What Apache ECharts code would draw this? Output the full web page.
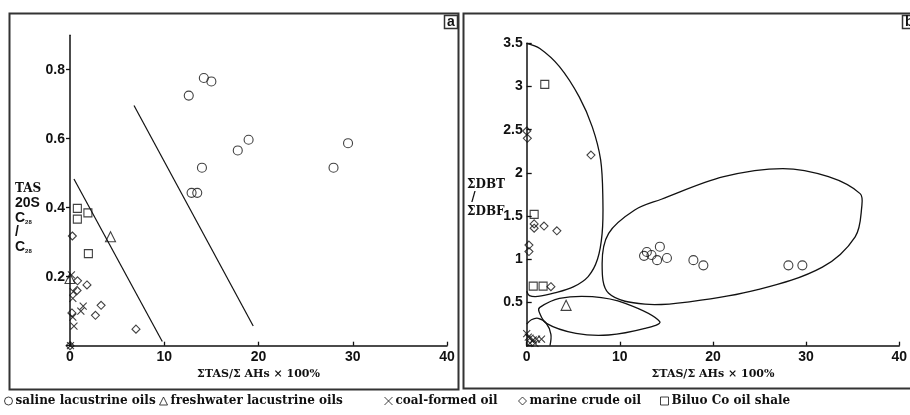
<!DOCTYPE html>
<html><head><meta charset="utf-8">
<script src="https://cdn.jsdelivr.net/npm/echarts@6/dist/echarts.min.js"></script>
<style>html,body{margin:0;padding:0;background:#fff}#c{width:910px;height:415px}</style>
</head><body><div id="c"></div>
<script>
// ---------- data ----------
const seriesNames = ['saline lacustrine oils','freshwater lacustrine oils','coal-formed oil','marine crude oil','Biluo Co oil shale'];
const xTickLabels = ['0','10','20','30','40'];
const aYTickLabels = ['0.2','0.4','0.6','0.8'];
const bYTickLabels = ['0.5','1','1.5','2','2.5','3','3.5'];

// panel a : TAS 20S C28 / C28 vs ΣTAS/ΣAHs
const aSaline = [[12.6,0.725],[14.2,0.776],[15.0,0.766],[14.0,0.516],[17.8,0.566],[18.95,0.597],[12.9,0.443],[13.5,0.443],[27.96,0.516],[29.5,0.587]];
const aFresh  = [[4.3,0.316],[0.0,0.195]];
const aCoal   = [[0.15,0.205],[0.35,0.157],[0.3,0.137],[1.4,0.115],[1.15,0.1],[0.3,0.083],[0.42,0.057],[0.05,0.0]];
const aMarine = [[0.25,0.318],[0.8,0.188],[1.8,0.176],[0.75,0.16],[0.2,0.095],[3.3,0.117],[2.7,0.088],[7.0,0.048],[0.0,0.0]];
const aShale  = [[0.78,0.398],[0.78,0.367],[1.9,0.385],[1.95,0.267]];
const aLine1  = [[0.42,0.483],[9.79,0.012]];
const aLine2  = [[6.79,0.696],[19.44,0.057]];

// panel b : ΣDBT/ΣDBF vs ΣTAS/ΣAHs
const bSaline = [[12.6,1.04],[12.9,1.085],[13.4,1.05],[14.3,1.146],[14.0,0.99],[15.06,1.015],[17.9,0.99],[18.97,0.93],[28.1,0.93],[29.6,0.93]];
const bFresh  = [[4.23,0.467]];
const bCoal   = [[0.0,0.14],[0.17,0.1],[0.35,0.087],[0.7,0.066],[1.06,0.077],[1.59,0.077],[0.88,0.028],[0.35,0.03]];
const bMarine = [[0.0,2.485],[0.07,2.4],[6.9,2.207],[0.8,1.41],[0.8,1.36],[1.86,1.385],[3.24,1.33],[0.24,1.165],[0.24,1.09],[2.6,0.683]];
const bShale  = [[1.94,3.025],[0.8,1.52],[0.7,0.69],[1.76,0.69]];

// outlines of the groups in panel b (data units)
const bOutlineTall   = [[0,3.5],[1.41,3.44],[3.52,3.23],[5.64,2.88],[7.05,2.53],[7.94,2.15],[8.18,1.69],[8.1,1.3],[7.6,1.0],[6.6,0.8],[5.0,0.68],[3.0,0.61],[1.2,0.57],[0.3,0.58],[0,0.63]];
const bOutlineSaline = [[14.46,1.695],[21.16,1.956],[27.5,2.05],[32.4,1.956],[35.8,1.76],[35.98,1.61],[35.27,1.26],[31.75,0.91],[24.69,0.645],[17.63,0.51],[12.7,0.48],[8.8,0.606],[8.1,0.95],[8.8,1.3],[11.6,1.57]];
const bOutlineFresh  = [[1.41,0.444],[3.52,0.548],[7.05,0.567],[10.58,0.49],[14.29,0.278],[12.7,0.2],[8.8,0.124],[5.29,0.143],[2.12,0.259],[1.33,0.394]];
const bOutlineCoal   = [[0,0.25],[0.5,0.3],[1.23,0.317],[2.1,0.26],[2.6,0.13],[2.5,0]];

// ---------- chart ----------
const INK = '#111';
const tickFont = {fontFamily:'Liberation Sans', fontWeight:'bold', fontSize:14, color:INK};
const nameFont = {fontFamily:'DejaVu Serif', fontWeight:'bold', fontSize:11, color:INK};
const symbols = {
  'saline lacustrine oils': {symbol:'circle', size:9},
  'freshwater lacustrine oils': {symbol:'triangle', size:10},
  'coal-formed oil': {symbol:'path://M0,0L10,10M10,0L0,10', size:7},
  'marine crude oil': {symbol:'diamond', size:8},
  'Biluo Co oil shale': {symbol:'rect', size:8}
};
function scatter(name, data, idx) {
  return {type:'scatter', name:name, data:data, xAxisIndex:idx, yAxisIndex:idx,
    symbol:symbols[name].symbol, symbolSize:symbols[name].size, z:5,
    itemStyle:{color:'rgba(0,0,0,0)', borderColor:INK, borderWidth:1.1}};
}
function segment(data) {
  return {type:'line', data:data, xAxisIndex:0, yAxisIndex:0, symbol:'none', silent:true,
    lineStyle:{color:INK, width:1.2}};
}
function outlines(list) {
  return {type:'custom', xAxisIndex:1, yAxisIndex:1, silent:true, data:[[0,0]], z:3,
    renderItem:function(params, api){
      return {type:'group', children:list.map(function(o){
        return {type:o.closed?'polygon':'polyline',
          shape:{points:o.pts.map(function(p){return api.coord(p);}), smooth:0.35},
          style:{fill:null, stroke:INK, lineWidth:1.3}};
      })};
    }};
}
function xAxis(idx) {
  return {type:'value', gridIndex:idx, min:0, max:40, interval:10,
    name:'ΣTAS/Σ AHs × 100%', nameLocation:'middle', nameGap:23, nameTextStyle:nameFont,
    axisLine:{lineStyle:{color:INK, width:1.5}}, axisTick:{inside:true, length:4, lineStyle:{color:INK, width:1.3}},
    splitLine:{show:false},
    axisLabel:Object.assign({margin:4, formatter:function(v){var s=String(v);return xTickLabels.indexOf(s)>=0?s:'';}}, tickFont)};
}
function legendBox(left, name) {
  return {left:left, top:395, itemWidth:8, itemHeight:8, itemGap:0, padding:0, selectedMode:false,
    icon:symbols[name].symbol,
    itemStyle:{color:'rgba(0,0,0,0)', borderColor:INK, borderWidth:1},
    textStyle:{fontFamily:'DejaVu Serif', fontWeight:'bold', fontSize:12, color:INK, padding:[0,0,0,-2]},
    data:[name]};
}

const chart = echarts.init(document.getElementById('c'), null, {renderer:'canvas'});
chart.setOption({
  animation:false,
  backgroundColor:'#fff',
  grid:[
    {left:70, top:35.2, width:377, height:310.5},
    {left:526.7, top:43.3, width:378.3, height:302.4}
  ],
  xAxis:[xAxis(0), xAxis(1)],
  yAxis:[
    {type:'value', gridIndex:0, min:0, max:0.9, interval:0.2,
      axisLine:{show:true, lineStyle:{color:INK, width:1.5}}, axisTick:{show:true, inside:false, length:4, lineStyle:{color:INK, width:1.3}},
      splitLine:{show:false},
      axisLabel:Object.assign({margin:5, showMaxLabel:false, formatter:function(v){var s=String(+v.toFixed(2));return aYTickLabels.indexOf(s)>=0?s:'';}}, tickFont)},
    {type:'value', gridIndex:1, min:0, max:3.5, interval:0.5,
      axisLine:{show:true, lineStyle:{color:INK, width:1.5}}, axisTick:{show:true, inside:true, length:5, lineStyle:{color:INK, width:1.3}},
      splitLine:{show:false},
      axisLabel:Object.assign({margin:4, formatter:function(v){var s=String(+v.toFixed(2));return bYTickLabels.indexOf(s)>=0?s:'';}}, tickFont)}
  ],
  legend:[
    legendBox(4, seriesNames[0]),
    legendBox(159, seriesNames[1]),
    legendBox(384, seriesNames[2]),
    legendBox(518, seriesNames[3]),
    legendBox(660, seriesNames[4])
  ],
  graphic:[
    {type:'rect', shape:{x:9.5, y:13.5, width:449, height:376}, style:{fill:null, stroke:'#333', lineWidth:2}, z:1},
    {type:'rect', shape:{x:463.5, y:13.5, width:460, height:375}, style:{fill:null, stroke:'#333', lineWidth:2}, z:1},
    {type:'rect', shape:{x:444.5, y:15.5, width:13, height:13}, style:{fill:'#fff', stroke:'#333', lineWidth:1.5}, z:2},
    {type:'text', left:447, top:15, style:{text:'a', font:'bold 14px Liberation Sans', fill:INK}, z:3},
    {type:'rect', shape:{x:902.5, y:15.5, width:13, height:13}, style:{fill:'#fff', stroke:'#333', lineWidth:1.5}, z:2},
    {type:'text', left:905, top:15, style:{text:'b', font:'bold 14px Liberation Sans', fill:INK}, z:3},
    {type:'text', left:15, top:183, z:3, style:{
      text:'{s|TAS}\n{b|20S}\n{b|C}{sub|28}\n{b|/}\n{b|C}{sub|28}',
      rich:{
        s:{fontFamily:'DejaVu Serif', fontWeight:'bold', fontSize:12, lineHeight:14.5, fill:INK, color:INK},
        b:{fontFamily:'Liberation Sans', fontWeight:'bold', fontSize:14, lineHeight:14.5, fill:INK, color:INK},
        sub:{fontFamily:'Liberation Sans', fontWeight:'bold', fontSize:6, lineHeight:14.5, verticalAlign:'bottom', fill:INK, color:INK}
      }}},
    {type:'text', left:467, top:178, z:3, style:{
      text:'ΣDBT\n /\nΣDBF',
      font:'bold 12px DejaVu Serif', lineHeight:13.5, fill:INK}}
  ],
  series:[
    segment(aLine1), segment(aLine2),
    scatter(seriesNames[0], aSaline, 0), scatter(seriesNames[1], aFresh, 0), scatter(seriesNames[2], aCoal, 0),
    scatter(seriesNames[3], aMarine, 0), scatter(seriesNames[4], aShale, 0),
    outlines([{pts:bOutlineTall, closed:false},{pts:bOutlineSaline, closed:true},{pts:bOutlineFresh, closed:true},{pts:bOutlineCoal, closed:false}]),
    scatter(seriesNames[0], bSaline, 1), scatter(seriesNames[1], bFresh, 1), scatter(seriesNames[2], bCoal, 1),
    scatter(seriesNames[3], bMarine, 1), scatter(seriesNames[4], bShale, 1)
  ]
});
</script>
</body></html>
